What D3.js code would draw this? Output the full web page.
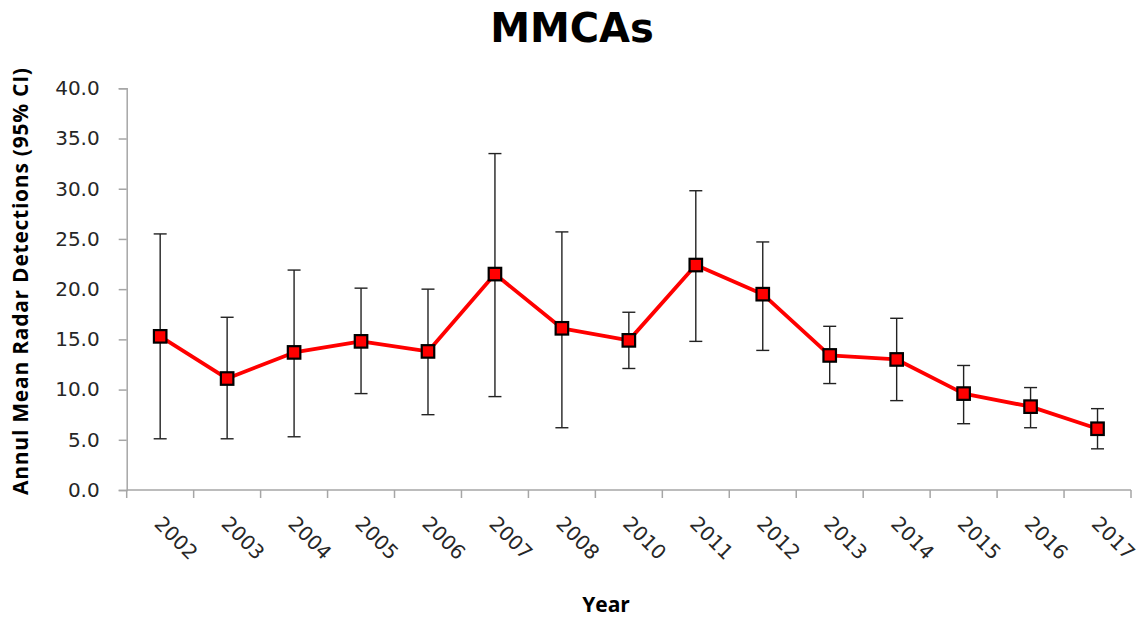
<!DOCTYPE html>
<html>
<head>
<meta charset="utf-8">
<script src="https://cdn.jsdelivr.net/npm/d3@7"></script>
<style>
  html, body { margin: 0; padding: 0; background: #fff; }
  svg { display: block; }
</style>
</head>
<body>
<svg id="chart" width="1147" height="618"></svg>
<script>
const years = ["2002","2003","2004","2005","2006","2007","2008","2010","2011","2012","2013","2014","2015","2016","2017"];
const meanValues = [15.3, 11.1, 13.7, 14.8, 13.8, 21.5, 16.1, 14.9, 22.4, 19.5, 13.4, 13.0, 9.6, 8.3, 6.1];
const upperCI   = [25.5, 17.2, 21.9, 20.1, 20.0, 33.5, 25.7, 17.7, 29.8, 24.7, 16.3, 17.1, 12.4, 10.2, 8.1];
const lowerCI   = [5.1, 5.1, 5.3, 9.6, 7.5, 9.3, 6.2, 12.1, 14.8, 13.9, 10.6, 8.9, 6.6, 6.2, 4.1];
const yTicks = [0, 5, 10, 15, 20, 25, 30, 35, 40];
const titleText = "MMCAs";
const xTitle = "Year";
const yTitle = "Annul Mean Radar Detections (95% CI)";

const data = years.map((y, i) => ({ year: y, mean: meanValues[i], hi: upperCI[i], lo: lowerCI[i] }));

const svg = d3.select("#chart");
const plotLeft = 126.7, plotRight = 1131, plotTop = 88.3, plotBottom = 490;

const x = d3.scaleBand().domain(years).range([plotLeft, plotRight]).padding(0);
const y = d3.scaleLinear().domain([0, 40]).range([plotBottom, plotTop]);
const cx = d => x(d.year) + x.bandwidth() / 2;

const axisColor = "#a6a6a6";
const tickFont = "'DejaVu Sans', sans-serif";
const tickColor = "#262626";

// Y axis
const yAxis = svg.append("g")
  .attr("transform", `translate(${plotLeft},0)`)
  .call(d3.axisLeft(y).tickValues(yTicks).tickFormat(d3.format(".1f")).tickSize(8).tickPadding(19));
yAxis.select(".domain").attr("stroke", axisColor).attr("stroke-width", 1.5);
yAxis.selectAll(".tick line").attr("stroke", axisColor).attr("stroke-width", 1.5);
yAxis.selectAll(".tick text")
  .attr("fill", tickColor)
  .style("font-family", tickFont)
  .style("font-size", "20px");

// X axis (ticks on category boundaries)
const xg = svg.append("g");
xg.append("line")
  .attr("x1", plotLeft).attr("x2", plotRight)
  .attr("y1", y(0)).attr("y2", y(0))
  .attr("stroke", axisColor).attr("stroke-width", 1.5);
const boundaries = years.map(yr => x(yr)).concat([x(years[years.length - 1]) + x.bandwidth()]);
xg.selectAll("line.xt").data(boundaries).join("line")
  .attr("class", "xt")
  .attr("x1", d => d).attr("x2", d => d)
  .attr("y1", y(0)).attr("y2", y(0) + 8)
  .attr("stroke", axisColor).attr("stroke-width", 1.5);
xg.selectAll("text.xl").data(data).join("text")
  .attr("class", "xl")
  .attr("transform", d => `translate(${cx(d) - 7},${y(0) + 35}) rotate(45)`)
  .attr("text-anchor", "start")
  .attr("fill", tickColor)
  .style("font-family", tickFont)
  .style("font-size", "20px")
  .text(d => d.year);

// Error bars
const eb = svg.append("g").attr("stroke", "#222").attr("stroke-width", 1.4);
eb.selectAll("line.v").data(data).join("line")
  .attr("class", "v")
  .attr("x1", cx).attr("x2", cx)
  .attr("y1", d => y(d.lo)).attr("y2", d => y(d.hi));
eb.selectAll("line.capH").data(data).join("line")
  .attr("class", "capH")
  .attr("x1", d => cx(d) - 6.5).attr("x2", d => cx(d) + 6.5)
  .attr("y1", d => y(d.hi)).attr("y2", d => y(d.hi));
eb.selectAll("line.capL").data(data).join("line")
  .attr("class", "capL")
  .attr("x1", d => cx(d) - 6.5).attr("x2", d => cx(d) + 6.5)
  .attr("y1", d => y(d.lo)).attr("y2", d => y(d.lo));

// Line
const line = d3.line().x(cx).y(d => y(d.mean));
svg.append("path")
  .datum(data)
  .attr("d", line)
  .attr("fill", "none")
  .attr("stroke", "#ff0000")
  .attr("stroke-width", 3.8)
  .attr("stroke-linejoin", "round");

// Markers
const ms = 12.5;
svg.append("g").selectAll("rect").data(data).join("rect")
  .attr("x", d => cx(d) - ms / 2)
  .attr("y", d => y(d.mean) - ms / 2)
  .attr("width", ms).attr("height", ms)
  .attr("fill", "#ff0000")
  .attr("stroke", "#000")
  .attr("stroke-width", 2.2);

// Title
svg.append("text")
  .attr("x", 572).attr("y", 42)
  .attr("text-anchor", "middle")
  .style("font-family", "'DejaVu Sans', sans-serif")
  .style("font-weight", "bold")
  .style("font-size", "40px")
  .attr("fill", "#000")
  .text(titleText);

// X title
svg.append("text")
  .attr("x", 606).attr("y", 612)
  .attr("text-anchor", "middle")
  .style("font-family", "'Open Sans', sans-serif")
  .style("font-weight", "bold")
  .style("font-size", "21px")
  .attr("fill", "#000")
  .text(xTitle);

// Y title
svg.append("text")
  .attr("transform", `translate(28,281.5) rotate(-90)`)
  .attr("text-anchor", "middle")
  .style("font-family", "'Open Sans', sans-serif")
  .style("font-weight", "bold")
  .style("font-size", "21px")
  .attr("fill", "#000")
  .attr("textLength", 427)
  .attr("lengthAdjust", "spacing")
  .text(yTitle);
</script>
</body>
</html>
